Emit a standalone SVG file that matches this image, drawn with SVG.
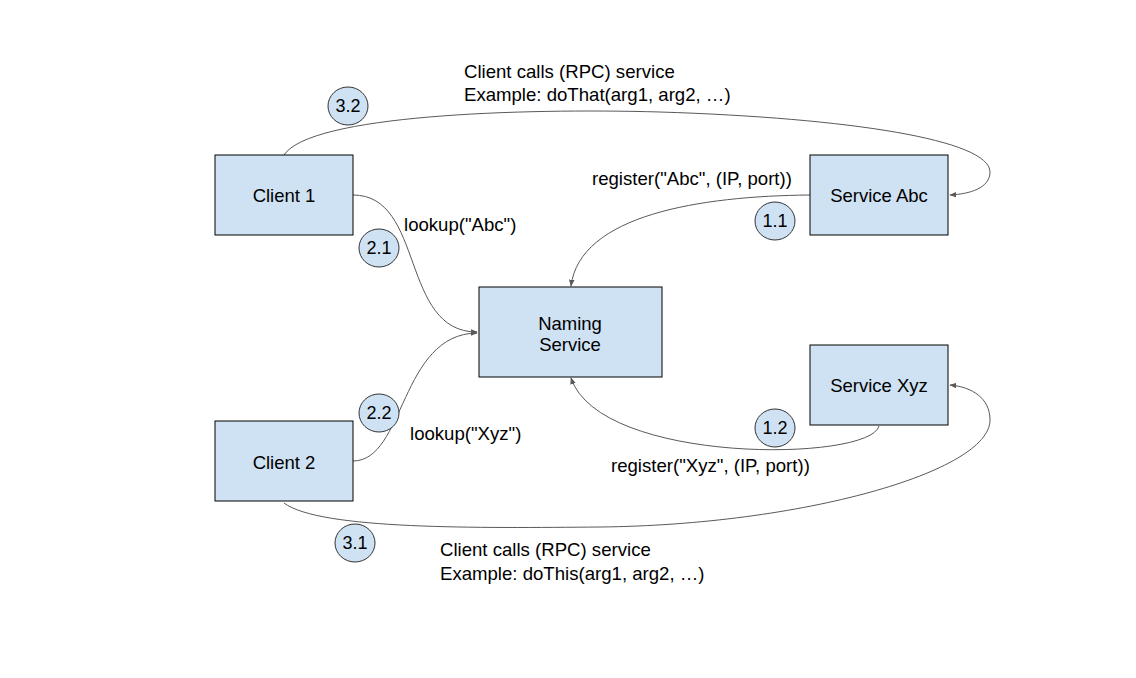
<svg xmlns="http://www.w3.org/2000/svg" width="1136" height="678" viewBox="0 0 1136 678">
<style>
.box{fill:#cfe2f3;stroke:#000;stroke-width:1}
.badge{fill:#cfe2f3;stroke:#333;stroke-width:1}
.lbl{font-family:"Liberation Sans",Arial,sans-serif;font-size:18.5px;fill:#000;text-anchor:middle}
.bl{font-family:"Liberation Sans",Arial,sans-serif;font-size:18px;fill:#000;text-anchor:middle}
.t{font-family:"Liberation Sans",Arial,sans-serif;font-size:18.6px;fill:#000}
.c{fill:none;stroke:#595959;stroke-width:1;marker-end:url(#ah)}
</style>
<defs>
<marker id="ah" viewBox="0 0 10 10" refX="9" refY="5" markerWidth="7" markerHeight="7" markerUnits="userSpaceOnUse" orient="auto">
<path d="M0,1 L10,5 L0,9 z" fill="#595959"/>
</marker>
</defs>
<rect width="1136" height="678" fill="#fff"/>
<g id="connectors">
<path class="c" d="M284,155 C310,115 520,108 660,112 C850,118 990,140 990,172 C990,188 970,194 950,195"/>
<path class="c" d="M353,195 C425,195 400,332 477,332"/>
<path class="c" d="M353,461 C405,461 400,334 477,333"/>
<path class="c" d="M810,195 C700,196 580,215 571,286"/>
<path class="c" d="M879,426 C870,462 600,465 571,378"/>
<path class="c" d="M284,503 C320,530 480,528 600,527 C800,525 990,472 990,420 C990,398 972,387 950,385"/>
</g>
<g id="client1"><rect class="box" x="215" y="155" width="138" height="80"/><text class="lbl" x="284" y="202">Client 1</text></g>
<g id="client2"><rect class="box" x="215" y="421" width="138" height="80"/><text class="lbl" x="284" y="469">Client 2</text></g>
<g id="naming"><rect class="box" x="479" y="287" width="183" height="90"/><text class="lbl" x="570" y="330">Naming</text><text class="lbl" x="570" y="351">Service</text></g>
<g id="serviceAbc"><rect class="box" x="810" y="155" width="138" height="80"/><text class="lbl" x="879" y="202">Service Abc</text></g>
<g id="serviceXyz"><rect class="box" x="810" y="345" width="138" height="80"/><text class="lbl" x="879" y="392">Service Xyz</text></g>
<g id="b32"><ellipse class="badge" cx="348" cy="106" rx="20" ry="19"/><text class="bl" x="348" y="112">3.2</text></g>
<g id="b21"><ellipse class="badge" cx="379" cy="248" rx="20" ry="19"/><text class="bl" x="379" y="254">2.1</text></g>
<g id="b22"><ellipse class="badge" cx="379" cy="413" rx="20" ry="19"/><text class="bl" x="379" y="419">2.2</text></g>
<g id="b11"><ellipse class="badge" cx="775" cy="221" rx="20" ry="19"/><text class="bl" x="775" y="227">1.1</text></g>
<g id="b12"><ellipse class="badge" cx="775" cy="428" rx="20" ry="19"/><text class="bl" x="775" y="434">1.2</text></g>
<g id="b31"><ellipse class="badge" cx="355" cy="543" rx="20" ry="19"/><text class="bl" x="355" y="549">3.1</text></g>
<g id="labels">
<text class="t" x="464" y="78">Client calls (RPC) service</text>
<text class="t" x="464" y="101">Example: doThat(arg1, arg2, …)</text>
<text class="t" x="592" y="185">register("Abc", (IP, port))</text>
<text class="t" x="404" y="231">lookup("Abc")</text>
<text class="t" x="410" y="440">lookup("Xyz")</text>
<text class="t" x="611" y="472">register("Xyz", (IP, port))</text>
<text class="t" x="440" y="556">Client calls (RPC) service</text>
<text class="t" x="440" y="580">Example: doThis(arg1, arg2, …)</text>
</g>
</svg>
